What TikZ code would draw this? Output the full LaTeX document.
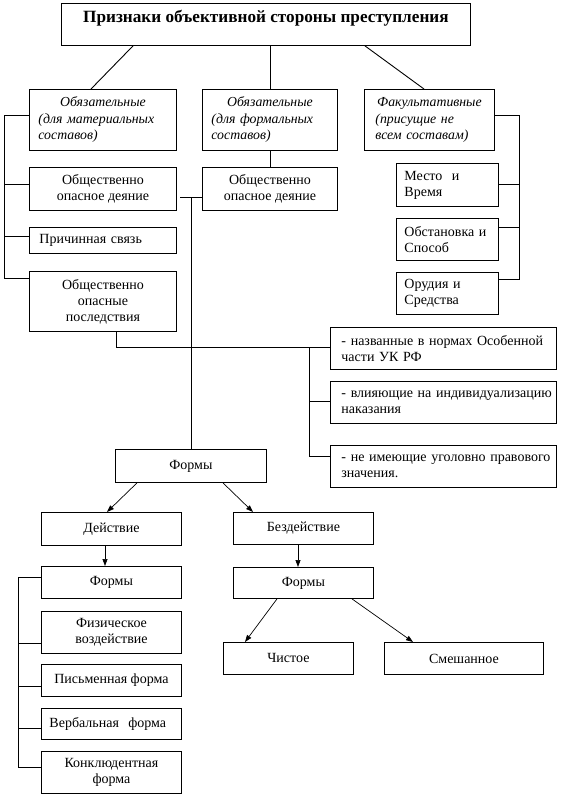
\documentclass[tikz,border=0pt]{standalone}
\usepackage{fontspec}
\setmainfont{Liberation Serif}
\usetikzlibrary{arrows.meta}
\newcommand\fs{\fontsize{14}{16}\selectfont}
\newcommand\fsi{\fontsize{13.8}{16.5}\selectfont\itshape}
\newcommand\ftb{\fontsize{17.2}{19}\selectfont\bfseries}
\tikzset{
  box/.style={draw, line width=0.9pt, inner sep=0pt, anchor=north west, align=center, font=\fs},
  lbox/.style={box, align=left},
  ln/.style={line width=0.9pt},
  arr/.style={line width=0.7pt, -{Triangle[length=7pt,width=5pt]}}
}
\begin{document}
\begin{tikzpicture}[x=1pt,y=-1pt]
\useasboundingbox (0,0) rectangle (561,798);
% top
\node[box, minimum width=409pt, minimum height=42pt, font=\ftb] (top) at (61,3) {\raisebox{6pt}[\height][\depth]{Признаки объективной стороны преступления}};
% second row
\node[lbox, font=\fsi, text width=129pt, inner xsep=9pt, minimum height=61pt] (A) at (29,89) {\makebox[\linewidth]{Обязательные}\\\mbox{(для материальных}\\\mbox{составов)}};
\node[lbox, font=\fsi, text width=117pt, inner xsep=9pt, minimum height=61pt] (B) at (202,89) {\makebox[\linewidth]{Обязательные}\\\mbox{(для формальных}\\\mbox{составов)}};
\node[lbox, font=\fsi, text width=108pt, inner xsep=11pt, minimum height=61pt] (C) at (364,89) {\makebox[\linewidth]{Факультативные}\\\mbox{(присущие не}\\\mbox{всем составам)}};
% left column
\node[box, minimum width=147pt, minimum height=43pt] (Ad) at (29,167) {Общественно\\опасное деяние};
\node[lbox, text width=127pt, inner xsep=10pt, minimum height=26pt] (Pc) at (29,227) {\mbox{Причинная связь}};
\node[box, minimum width=147pt, minimum height=60pt] (Pos) at (29,271) {Общественно\\опасные\\последствия};
% middle
\node[box, minimum width=135pt, minimum height=43pt] (Bd) at (202,167) {Общественно\\опасное деяние};
% right column
\node[lbox, text width=86pt, inner xsep=8pt, minimum height=43pt] (Me) at (396,163) {\mbox{Место\ \ и}\\\mbox{Время}};
\node[lbox, text width=86pt, inner xsep=8pt, minimum height=42pt] (Ob) at (396,218) {\mbox{Обстановка и}\\\mbox{Способ}};
\node[lbox, text width=86pt, inner xsep=8pt, minimum height=42pt] (Or) at (396,272) {\mbox{Орудия и}\\\mbox{Средства}};
% boxes at right middle
\node[lbox, text width=204pt, inner xsep=11pt, minimum height=42pt] (N1) at (330,327) {\mbox{- названные в нормах Особенной}\\\mbox{части УК РФ}};
\node[lbox, text width=204pt, inner xsep=11pt, minimum height=42pt] (N2) at (330,381) {\mbox{- влияющие на индивидуализацию}\\\mbox{наказания}};
\node[lbox, text width=204pt, inner xsep=11pt, minimum height=42pt] (N3) at (330,445) {\mbox{- не имеющие уголовно правового}\\\mbox{значения.}};
% forms
\node[box, minimum width=151pt, minimum height=33pt] (F1) at (115,449) {Формы};
\node[box, minimum width=140pt, minimum height=33pt] (Dv) at (41,512) {Действие};
\node[box, minimum width=140pt, minimum height=32pt] (Bz) at (233,512) {Бездействие};
\node[box, minimum width=140pt, minimum height=32pt] (FL) at (41,566) {Формы};
\node[box, minimum width=140pt, minimum height=31pt] (FR) at (233,567) {Формы};
\node[box, minimum width=140pt, minimum height=42pt] (Fz) at (41,611) {Физическое\\воздействие};
\node[box, minimum width=140pt, minimum height=32pt] (Pm) at (41,664) {Письменная форма};
\node[lbox, text width=124pt, inner xsep=8pt, minimum height=31pt] (Vb) at (41,708) {\mbox{Вербальная\ \ форма}};
\node[box, minimum width=140pt, minimum height=42pt] (Kn) at (41,751) {Конклюдентная\\форма};
\node[box, minimum width=130pt, minimum height=32pt] (Ch) at (223,642) {Чистое};
\node[box, minimum width=159pt, minimum height=32pt] (Sm) at (384,642) {Смешанное};
% top connectors
\draw[ln] ([xshift=72pt]top.south west) -- ([xshift=62pt]A.north west);
\draw[ln] (B.north |- top.south) -- (B.north);
\draw[ln] ([xshift=304pt]top.south west) -- ([xshift=60pt]C.north west);
\draw[ln] (B) -- (Bd);
% left bracket
\coordinate (L1) at (4,115);
\coordinate (L2) at (4,278);
\coordinate (L3) at (4,184);
\coordinate (L4) at (4,236);
\draw[ln] (A.west |- L1) -- (L1) -- (L2) -- (L2 -| Pos.west);
\draw[ln] (L3) -- (L3 -| Ad.west);
\draw[ln] (L4) -- (L4 -| Pc.west);
% right bracket
\coordinate (R1) at (519,115);
\coordinate (R2) at (519,279);
\coordinate (R3) at (519,184);
\coordinate (R4) at (519,227);
\draw[ln] (C.east |- R1) -- (R1) -- (R2) -- (R2 -| Or.east);
\draw[ln] (R3) -- (R3 -| Me.east);
\draw[ln] (R4) -- (R4 -| Ob.east);
% middle
\coordinate (M1) at (180,197);
\coordinate (M2) at (191,197);
\draw[ln] (M1) -- (M1 -| Bd.west);
\draw[ln] (M2) -- (M2 |- F1.north);
% consequences to right boxes
\coordinate (P1) at (116,347);
\draw[ln] (P1 |- Pos.south) -- (P1) -- (P1 -| N1.west);
\coordinate (Q1) at (309,347);
\coordinate (Q2) at (309,456);
\coordinate (Q3) at (309,401);
\draw[ln] (Q1) -- (Q2) -- (Q2 -| N3.west);
\draw[ln] (Q3) -- (Q3 -| N2.west);
% arrows
\draw[arr] ([xshift=22pt]F1.south west) -- ([xshift=66pt]Dv.north west);
\draw[arr] ([xshift=108pt]F1.south west) -- ([xshift=20pt]Bz.north west);
\draw[arr] ([xshift=64pt]Dv.south west) -- ([xshift=64pt]FL.north west);
\draw[arr] ([xshift=65pt]Bz.south west) -- ([xshift=65pt]FR.north west);
\draw[arr] ([xshift=44pt]FR.south west) -- ([xshift=22pt]Ch.north west);
\draw[arr] ([xshift=119pt]FR.south west) -- ([xshift=29pt]Sm.north west);
% bottom-left bracket
\coordinate (K1) at (18,577);
\coordinate (K2) at (18,767);
\coordinate (K3) at (18,643);
\coordinate (K4) at (18,686);
\coordinate (K5) at (18,728);
\draw[ln] (K1 -| FL.west) -- (K1) -- (K2) -- (K2 -| Kn.west);
\draw[ln] (K3) -- (K3 -| Fz.west);
\draw[ln] (K4) -- (K4 -| Pm.west);
\draw[ln] (K5) -- (K5 -| Vb.west);
\end{tikzpicture}
\end{document}
